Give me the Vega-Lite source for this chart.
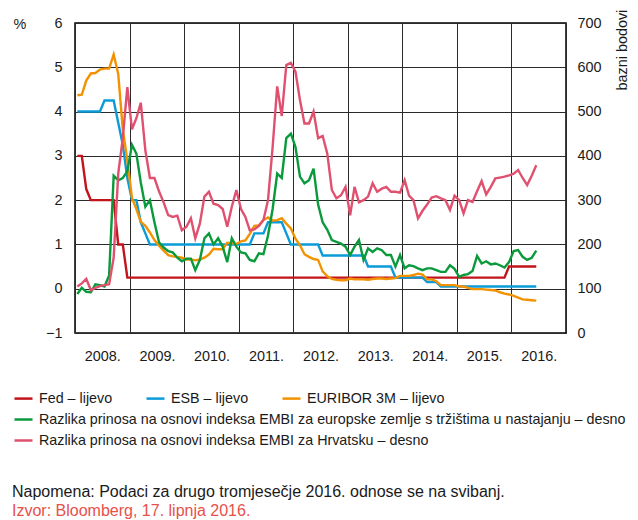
{
  "$schema": "https://vega.github.io/schema/vega-lite/v6.json",
  "width": 491,
  "height": 310,
  "autosize": {"type": "none"},
  "padding": {"left": 75, "top": 23, "right": 72, "bottom": 187},
  "config": {
    "font": "Liberation Sans",
    "view": {"stroke": "#000000", "strokeWidth": 1.5},
    "axis": {"labelFont": "Liberation Sans", "labelFontSize": 14.4, "labelColor": "#1a1a1a", "ticks": false, "domain": false, "gridColor": "#2a2a2a", "gridWidth": 1, "gridOpacity": 1, "titleFont": "Liberation Sans", "titleFontSize": 14.4, "titleFontWeight": "normal", "titleColor": "#1a1a1a"},
    "legend": {"labelFont": "Liberation Sans", "labelFontSize": 14.3, "labelColor": "#1a1a1a"}
  },
  "title": {
    "text": "Napomena: Podaci za drugo tromjesečje 2016. odnose se na svibanj.",
    "subtitle": "Izvor: Bloomberg, 17. lipnja 2016.",
    "orient": "bottom",
    "anchor": "start",
    "frame": "group",
    "dx": -63,
    "offset": 36,
    "font": "Liberation Sans",
    "fontSize": 16,
    "fontWeight": "normal",
    "color": "#1a1a1a",
    "subtitleFont": "Liberation Sans",
    "subtitleFontSize": 16,
    "subtitleColor": "#e8504a",
    "subtitlePadding": 3
  },
  "data": {"values": [
    {"d":"2008-01","fed":3,"esb":4,"eur":4.37,"eu":88,"hr":105},
    {"d":"2008-02","fed":3,"esb":4,"eur":4.38,"eu":102,"hr":112},
    {"d":"2008-03","fed":2.25,"esb":4,"eur":4.7,"eu":93,"hr":122},
    {"d":"2008-04","fed":2,"esb":4,"eur":4.86,"eu":92,"hr":97},
    {"d":"2008-05","fed":2,"esb":4,"eur":4.87,"eu":110,"hr":102},
    {"d":"2008-06","fed":2,"esb":4,"eur":4.95,"eu":108,"hr":106},
    {"d":"2008-07","fed":2,"esb":4.25,"eur":4.97,"eu":105,"hr":108},
    {"d":"2008-08","fed":2,"esb":4.25,"eur":4.97,"eu":130,"hr":110},
    {"d":"2008-09","fed":2,"esb":4.25,"eur":5.29,"eu":355,"hr":170},
    {"d":"2008-10","fed":1,"esb":3.75,"eur":4.85,"eu":345,"hr":360},
    {"d":"2008-11","fed":1,"esb":3.25,"eur":3.6,"eu":350,"hr":440},
    {"d":"2008-12","fed":0.25,"esb":2.5,"eur":2.89,"eu":365,"hr":555},
    {"d":"2009-01","fed":0.25,"esb":2,"eur":2.05,"eu":425,"hr":460},
    {"d":"2009-02","fed":0.25,"esb":2,"eur":1.8,"eu":405,"hr":485},
    {"d":"2009-03","fed":0.25,"esb":1.5,"eur":1.51,"eu":340,"hr":520},
    {"d":"2009-04","fed":0.25,"esb":1.25,"eur":1.42,"eu":285,"hr":413},
    {"d":"2009-05","fed":0.25,"esb":1,"eur":1.27,"eu":300,"hr":350},
    {"d":"2009-06","fed":0.25,"esb":1,"eur":1.1,"eu":250,"hr":350},
    {"d":"2009-07","fed":0.25,"esb":1,"eur":0.97,"eu":205,"hr":320},
    {"d":"2009-08","fed":0.25,"esb":1,"eur":0.86,"eu":193,"hr":295},
    {"d":"2009-09","fed":0.25,"esb":1,"eur":0.76,"eu":185,"hr":266},
    {"d":"2009-10","fed":0.25,"esb":1,"eur":0.73,"eu":182,"hr":262},
    {"d":"2009-11","fed":0.25,"esb":1,"eur":0.72,"eu":170,"hr":265},
    {"d":"2009-12","fed":0.25,"esb":1,"eur":0.7,"eu":162,"hr":232},
    {"d":"2010-01","fed":0.25,"esb":1,"eur":0.66,"eu":168,"hr":240},
    {"d":"2010-02","fed":0.25,"esb":1,"eur":0.66,"eu":168,"hr":259},
    {"d":"2010-03","fed":0.25,"esb":1,"eur":0.64,"eu":142,"hr":214},
    {"d":"2010-04","fed":0.25,"esb":1,"eur":0.66,"eu":165,"hr":247},
    {"d":"2010-05","fed":0.25,"esb":1,"eur":0.7,"eu":214,"hr":308},
    {"d":"2010-06","fed":0.25,"esb":1,"eur":0.77,"eu":225,"hr":319},
    {"d":"2010-07","fed":0.25,"esb":1,"eur":0.9,"eu":200,"hr":292},
    {"d":"2010-08","fed":0.25,"esb":1,"eur":0.89,"eu":214,"hr":289},
    {"d":"2010-09","fed":0.25,"esb":1,"eur":0.89,"eu":195,"hr":280},
    {"d":"2010-10","fed":0.25,"esb":1,"eur":1.04,"eu":160,"hr":240},
    {"d":"2010-11","fed":0.25,"esb":1,"eur":1.03,"eu":214,"hr":285},
    {"d":"2010-12","fed":0.25,"esb":1,"eur":1.01,"eu":195,"hr":323},
    {"d":"2011-01","fed":0.25,"esb":1,"eur":1.07,"eu":182,"hr":280},
    {"d":"2011-02","fed":0.25,"esb":1,"eur":1.09,"eu":180,"hr":262},
    {"d":"2011-03","fed":0.25,"esb":1,"eur":1.24,"eu":165,"hr":232},
    {"d":"2011-04","fed":0.25,"esb":1.25,"eur":1.42,"eu":162,"hr":234},
    {"d":"2011-05","fed":0.25,"esb":1.25,"eur":1.43,"eu":180,"hr":242},
    {"d":"2011-06","fed":0.25,"esb":1.25,"eur":1.55,"eu":178,"hr":255},
    {"d":"2011-07","fed":0.25,"esb":1.5,"eur":1.61,"eu":220,"hr":300},
    {"d":"2011-08","fed":0.25,"esb":1.5,"eur":1.54,"eu":280,"hr":420},
    {"d":"2011-09","fed":0.25,"esb":1.5,"eur":1.55,"eu":360,"hr":557},
    {"d":"2011-10","fed":0.25,"esb":1.5,"eur":1.59,"eu":350,"hr":490},
    {"d":"2011-11","fed":0.25,"esb":1.25,"eur":1.47,"eu":440,"hr":605},
    {"d":"2011-12","fed":0.25,"esb":1,"eur":1.36,"eu":450,"hr":610},
    {"d":"2012-01","fed":0.25,"esb":1,"eur":1.13,"eu":420,"hr":590},
    {"d":"2012-02","fed":0.25,"esb":1,"eur":0.98,"eu":353,"hr":526},
    {"d":"2012-03","fed":0.25,"esb":1,"eur":0.78,"eu":338,"hr":473},
    {"d":"2012-04","fed":0.25,"esb":1,"eur":0.72,"eu":345,"hr":473},
    {"d":"2012-05","fed":0.25,"esb":1,"eur":0.67,"eu":371,"hr":500},
    {"d":"2012-06","fed":0.25,"esb":1,"eur":0.65,"eu":290,"hr":440},
    {"d":"2012-07","fed":0.25,"esb":0.75,"eur":0.39,"eu":250,"hr":445},
    {"d":"2012-08","fed":0.25,"esb":0.75,"eur":0.28,"eu":233,"hr":405},
    {"d":"2012-09","fed":0.25,"esb":0.75,"eur":0.22,"eu":210,"hr":323},
    {"d":"2012-10","fed":0.25,"esb":0.75,"eur":0.2,"eu":206,"hr":304},
    {"d":"2012-11","fed":0.25,"esb":0.75,"eur":0.19,"eu":202,"hr":311},
    {"d":"2012-12","fed":0.25,"esb":0.75,"eur":0.19,"eu":195,"hr":330},
    {"d":"2013-01","fed":0.25,"esb":0.75,"eur":0.23,"eu":176,"hr":266},
    {"d":"2013-02","fed":0.25,"esb":0.75,"eur":0.21,"eu":195,"hr":330},
    {"d":"2013-03","fed":0.25,"esb":0.75,"eur":0.21,"eu":210,"hr":295},
    {"d":"2013-04","fed":0.25,"esb":0.75,"eur":0.21,"eu":165,"hr":300},
    {"d":"2013-05","fed":0.25,"esb":0.5,"eur":0.2,"eu":191,"hr":308},
    {"d":"2013-06","fed":0.25,"esb":0.5,"eur":0.22,"eu":183,"hr":338},
    {"d":"2013-07","fed":0.25,"esb":0.5,"eur":0.23,"eu":191,"hr":319},
    {"d":"2013-08","fed":0.25,"esb":0.5,"eur":0.23,"eu":187,"hr":326},
    {"d":"2013-09","fed":0.25,"esb":0.5,"eur":0.22,"eu":176,"hr":330},
    {"d":"2013-10","fed":0.25,"esb":0.5,"eur":0.23,"eu":176,"hr":319},
    {"d":"2013-11","fed":0.25,"esb":0.25,"eur":0.24,"eu":150,"hr":319},
    {"d":"2013-12","fed":0.25,"esb":0.25,"eur":0.29,"eu":176,"hr":317},
    {"d":"2014-01","fed":0.25,"esb":0.25,"eur":0.29,"eu":146,"hr":345},
    {"d":"2014-02","fed":0.25,"esb":0.25,"eur":0.29,"eu":153,"hr":310},
    {"d":"2014-03","fed":0.25,"esb":0.25,"eur":0.31,"eu":151,"hr":300},
    {"d":"2014-04","fed":0.25,"esb":0.25,"eur":0.34,"eu":146,"hr":259},
    {"d":"2014-05","fed":0.25,"esb":0.25,"eur":0.32,"eu":142,"hr":276},
    {"d":"2014-06","fed":0.25,"esb":0.15,"eur":0.21,"eu":146,"hr":290},
    {"d":"2014-07","fed":0.25,"esb":0.15,"eur":0.21,"eu":146,"hr":306},
    {"d":"2014-08","fed":0.25,"esb":0.15,"eur":0.17,"eu":142,"hr":309},
    {"d":"2014-09","fed":0.25,"esb":0.05,"eur":0.08,"eu":138,"hr":304},
    {"d":"2014-10","fed":0.25,"esb":0.05,"eur":0.08,"eu":138,"hr":300},
    {"d":"2014-11","fed":0.25,"esb":0.05,"eur":0.08,"eu":153,"hr":278},
    {"d":"2014-12","fed":0.25,"esb":0.05,"eur":0.08,"eu":145,"hr":310},
    {"d":"2015-01","fed":0.25,"esb":0.05,"eur":0.05,"eu":127,"hr":300},
    {"d":"2015-02","fed":0.25,"esb":0.05,"eur":0.05,"eu":131,"hr":270},
    {"d":"2015-03","fed":0.25,"esb":0.05,"eur":0.02,"eu":133,"hr":300},
    {"d":"2015-04","fed":0.25,"esb":0.05,"eur":-0.01,"eu":140,"hr":296},
    {"d":"2015-05","fed":0.25,"esb":0.05,"eur":-0.01,"eu":174,"hr":320},
    {"d":"2015-06","fed":0.25,"esb":0.05,"eur":-0.01,"eu":157,"hr":343},
    {"d":"2015-07","fed":0.25,"esb":0.05,"eur":-0.02,"eu":162,"hr":313},
    {"d":"2015-08","fed":0.25,"esb":0.05,"eur":-0.03,"eu":155,"hr":330},
    {"d":"2015-09","fed":0.25,"esb":0.05,"eur":-0.04,"eu":157,"hr":349},
    {"d":"2015-10","fed":0.25,"esb":0.05,"eur":-0.08,"eu":153,"hr":351},
    {"d":"2015-11","fed":0.25,"esb":0.05,"eur":-0.11,"eu":148,"hr":353},
    {"d":"2015-12","fed":0.5,"esb":0.05,"eur":-0.13,"eu":160,"hr":356},
    {"d":"2016-01","fed":0.5,"esb":0.05,"eur":-0.16,"eu":185,"hr":360},
    {"d":"2016-02","fed":0.5,"esb":0.05,"eur":-0.2,"eu":187,"hr":368},
    {"d":"2016-03","fed":0.5,"esb":0.05,"eur":-0.24,"eu":172,"hr":350},
    {"d":"2016-04","fed":0.5,"esb":0.05,"eur":-0.25,"eu":165,"hr":334},
    {"d":"2016-05","fed":0.5,"esb":0.05,"eur":-0.26,"eu":170,"hr":355},
    {"d":"2016-06","fed":0.5,"esb":0.05,"eur":-0.27,"eu":186,"hr":379}
  ]},
  "layer": [
    {
      "transform": [{"fold": ["fed", "esb", "eur"], "as": ["series", "value"]}],
      "mark": {"type": "line", "strokeWidth": 2.4},
      "encoding": {
        "x": {
          "field": "d", "type": "temporal", "timeUnit": "utcyearmonth", "bandPosition": 0.5,
          "scale": {"type": "utc", "domain": [{"year": 2008, "month": 1, "date": 1, "utc": true}, {"year": 2017, "month": 1, "date": 1, "utc": true}]},
          "axis": {
            "title": null, "grid": true,
            "values": [{"year": 2008, "utc": true}, {"year": 2009, "utc": true}, {"year": 2010, "utc": true}, {"year": 2011, "utc": true}, {"year": 2012, "utc": true}, {"year": 2013, "utc": true}, {"year": 2014, "utc": true}, {"year": 2015, "utc": true}, {"year": 2016, "utc": true}, {"year": 2017, "utc": true}],
            "labelExpr": "utcyear(datum.value) > 2016 ? '' : utcyear(datum.value) + '.'",
            "labelOffset": 27.3, "labelPadding": 16, "labelFlush": false, "labelOverlap": false, "labelBound": false
          }
        },
        "y": {
          "field": "value", "type": "quantitative",
          "scale": {"domain": [-1, 6], "nice": false, "zero": false},
          "axis": {"values": [-1, 0, 1, 2, 3, 4, 5, 6], "format": "d", "grid": true, "labelPadding": 13, "title": "%", "titleAngle": 0, "titleX": -62, "titleY": 5, "titleAlign": "left", "titleBaseline": "alphabetic"}
        },
        "color": {
          "field": "series", "type": "nominal",
          "scale": {"domain": ["fed", "esb", "eur"], "range": ["#c1141b", "#0b9bd7", "#f39200"]},
          "legend": {"title": null, "orient": "none", "legendX": -62, "legendY": 365, "direction": "horizontal", "columns": 3, "columnPadding": 28, "symbolType": "stroke", "symbolSize": 324, "symbolStrokeWidth": 2.5, "labelOffset": 5, "padding": 0,
            "labelExpr": "datum.label == 'fed' ? 'Fed – lijevo' : datum.label == 'esb' ? 'ESB – lijevo' : 'EURIBOR 3M – lijevo'"}
        }
      }
    },
    {
      "transform": [{"fold": ["eu", "hr"], "as": ["series", "value"]}],
      "mark": {"type": "line", "strokeWidth": 2.4},
      "encoding": {
        "x": {
          "field": "d", "type": "temporal", "timeUnit": "utcyearmonth", "bandPosition": 0.5,
          "scale": {"type": "utc", "domain": [{"year": 2008, "month": 1, "date": 1, "utc": true}, {"year": 2017, "month": 1, "date": 1, "utc": true}]},
          "axis": {
            "title": null, "grid": true,
            "values": [{"year": 2008, "utc": true}, {"year": 2009, "utc": true}, {"year": 2010, "utc": true}, {"year": 2011, "utc": true}, {"year": 2012, "utc": true}, {"year": 2013, "utc": true}, {"year": 2014, "utc": true}, {"year": 2015, "utc": true}, {"year": 2016, "utc": true}, {"year": 2017, "utc": true}],
            "labelExpr": "utcyear(datum.value) > 2016 ? '' : utcyear(datum.value) + '.'",
            "labelOffset": 27.3, "labelPadding": 16, "labelFlush": false, "labelOverlap": false, "labelBound": false
          }
        },
        "y": {
          "field": "value", "type": "quantitative",
          "scale": {"domain": [0, 700], "nice": false},
          "axis": {"orient": "right", "values": [0, 100, 200, 300, 400, 500, 600, 700], "grid": false, "labelPadding": 11, "title": "bazni bodovi", "titleAngle": 270, "titleX": 56, "titleY": 67, "titleAlign": "left", "titleBaseline": "middle"}
        },
        "stroke": {
          "field": "series", "type": "nominal",
          "scale": {"domain": ["eu", "hr"], "range": ["#0a9a3c", "#e0506f"]},
          "legend": {"title": null, "orient": "none", "legendX": -62, "legendY": 386, "direction": "vertical", "rowPadding": 3, "symbolType": "stroke", "symbolSize": 324, "symbolStrokeWidth": 2.5, "labelOffset": 5, "padding": 0,
            "labelExpr": "datum.label == 'eu' ? 'Razlika prinosa na osnovi indeksa EMBI za europske zemlje s tržištima u nastajanju – desno' : 'Razlika prinosa na osnovi indeksa EMBI za Hrvatsku – desno'", "labelLimit": 700}
        }
      }
    }
  ],
  "resolve": {"scale": {"y": "independent"}}
}
